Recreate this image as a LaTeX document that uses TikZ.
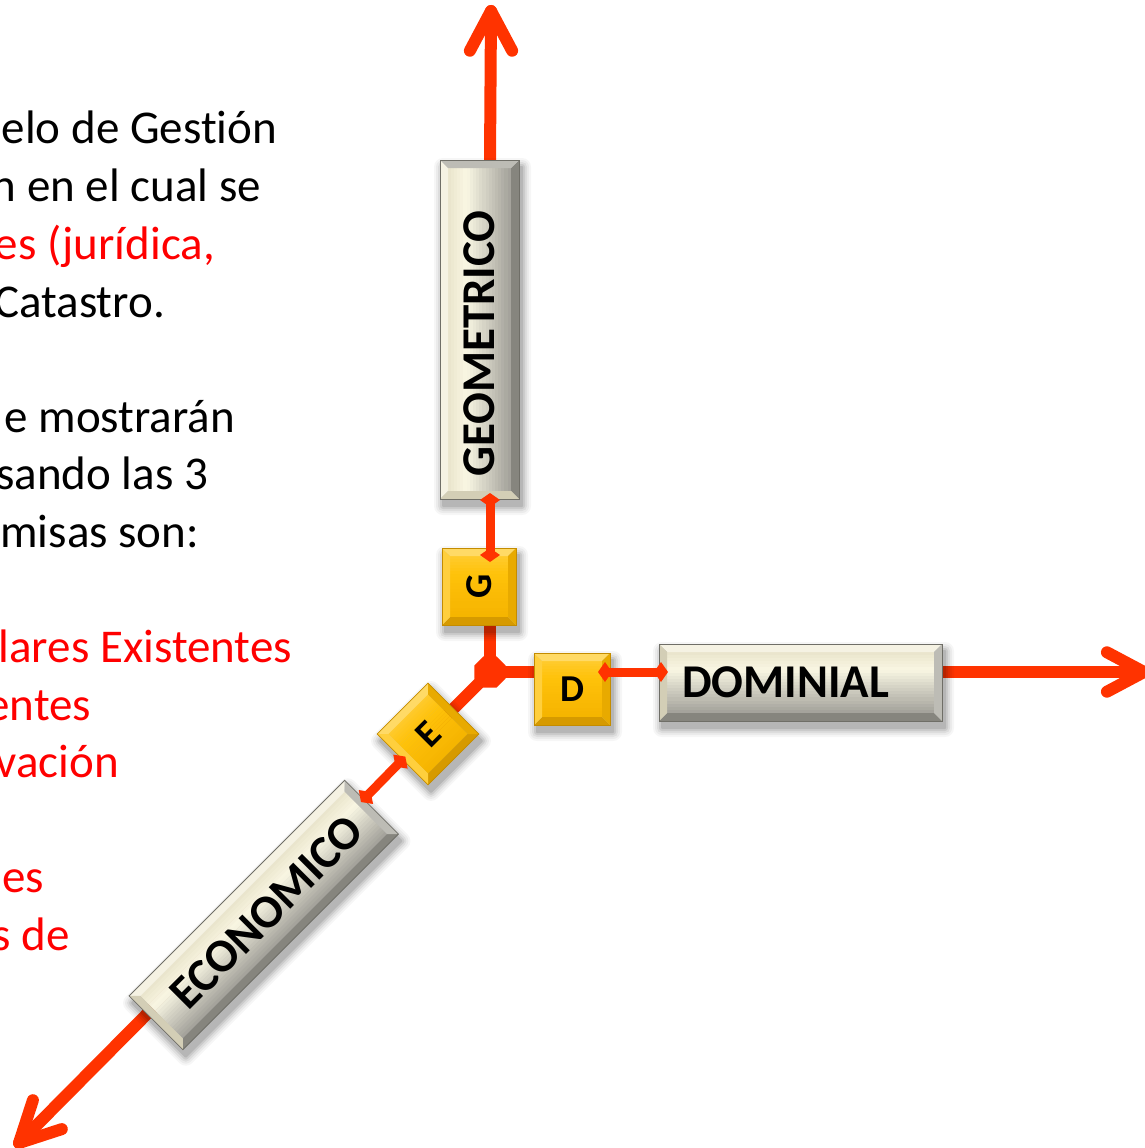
\documentclass[tikz,border=0pt]{standalone}
\usepackage{fontspec}
\setmainfont{Carlito}[Ligatures={NoCommon,NoContextual}]
\usetikzlibrary{arrows.meta,shapes.geometric,calc}
\pgfdeclarelayer{bg}
\pgfsetlayers{bg,main}
\definecolor{axisred}{HTML}{FF3300}
\definecolor{txtred}{HTML}{FF0000}
\definecolor{grayA}{HTML}{E9E4CB}
\definecolor{grayB}{HTML}{F9F6E3}
\definecolor{grayC}{HTML}{A2A19A}
\definecolor{grayTop}{HTML}{F5F2E3}
\definecolor{grayLeft}{HTML}{D3CEB6}
\definecolor{grayRight}{HTML}{BDBCB5}
\definecolor{grayBot}{HTML}{86857E}
\definecolor{grayLine}{HTML}{6F6E67}
\definecolor{goldA}{HTML}{FFCB2E}
\definecolor{goldB}{HTML}{FFC20A}
\definecolor{goldC}{HTML}{F5B400}
\definecolor{goldTop}{HTML}{FFDA66}
\definecolor{goldLeft}{HTML}{FFCF3D}
\definecolor{goldRight}{HTML}{E8AA00}
\definecolor{goldBot}{HTML}{D69A00}
\definecolor{goldLine}{HTML}{C48C00}
\newcommand\boxfont{\fontsize{47}{50}\selectfont\bfseries}
\newcommand\letfont{\fontsize{38}{40}\selectfont\bfseries}
\newcommand\bodyfont{\fontsize{47}{58}\selectfont}
% #1 name, #2 x(px), #3 y(px), #4 angle, #5 length, #6 thickness, #7 type, #8 text, #9 text options
\newcommand\bevbox[9]{%
  \begin{scope}[shift={({#2+3},{-#3-7})},rotate=#4]
    \foreach \s/\o in {9/0.035,7/0.045,5/0.06,3/0.08,1/0.1}{%
      \fill[black,opacity=\o,rounded corners=\s] ({-#5/2-\s},{-#6/2-\s}) rectangle ({#5/2+\s},{#6/2+\s});}
  \end{scope}
  \begin{scope}[shift={({#2},{-#3})},rotate=#4]
    \node[transform shape,minimum width=#5,minimum height=#6,inner sep=0,outer sep=0] (#1) at (0,0) {};
    \pgfmathsetmacro\hw{#5/2}%
    \pgfmathsetmacro\hh{#6/2}%
    \def\bv{8}%
    \foreach \i in {0,...,19}{%
      \pgfmathsetmacro\ya{\hh-\bv-(2*\hh-2*\bv)*\i/20+0.3}%
      \pgfmathsetmacro\yb{\hh-\bv-(2*\hh-2*\bv)*(\i+1)/20}%
      \pgfmathsetmacro\gt{(\i+0.5)/20}%
      \pgfmathtruncatemacro\seg{\gt<0.3}%
      \ifnum\seg=1
        \pgfmathtruncatemacro\pc{100*(1-\gt/0.3)}%
        \fill[#7A!\pc!#7B] ({-\hw+\bv},{\ya}) rectangle ({\hw-\bv},{\yb});
      \else
        \pgfmathtruncatemacro\pc{100*(1-(\gt-0.3)/0.7)}%
        \fill[#7B!\pc!#7C] ({-\hw+\bv},{\ya}) rectangle ({\hw-\bv},{\yb});
      \fi
    }
    \fill[#7Top] ({-\hw},{\hh}) -- ({\hw},{\hh}) -- ({\hw-\bv},{\hh-\bv}) -- ({-\hw+\bv},{\hh-\bv}) -- cycle;
    \fill[#7Bot] ({-\hw},{-\hh}) -- ({\hw},{-\hh}) -- ({\hw-\bv},{-\hh+\bv}) -- ({-\hw+\bv},{-\hh+\bv}) -- cycle;
    \fill[#7Left] ({-\hw},{\hh}) -- ({-\hw},{-\hh}) -- ({-\hw+\bv},{-\hh+\bv}) -- ({-\hw+\bv},{\hh-\bv}) -- cycle;
    \fill[#7Right] ({\hw},{\hh}) -- ({\hw},{-\hh}) -- ({\hw-\bv},{-\hh+\bv}) -- ({\hw-\bv},{\hh-\bv}) -- cycle;
    \draw[#7Line,line width=0.8] ({-\hw},{-\hh}) rectangle ({\hw},{\hh});
    \node[transform shape,inner sep=0,#9] (#1t) at (0,0) {#8};
  \end{scope}}
\tikzset{
  axis/.style={line width=12, draw=axisred, line cap=round, line join=round},
  conn/.style={line width=9, draw=axisred,
    {Diamond[length=14pt,width=20pt,line width=0pt]}-{Diamond[length=14pt,width=20pt,line width=0pt]}},
  body/.style={font=\bodyfont, inner sep=0, outer sep=0, anchor=base east},
  blk/.style={body, text=black},
  rd/.style={body, text=txtred}
}
\begin{document}
\begin{tikzpicture}[x=1pt,y=1pt]
\useasboundingbox (0,0) rectangle (1145,-1148);
\begin{pgfonlayer}{bg}
\fill[white] (0,0) rectangle (1145,-1148);
\end{pgfonlayer}
% axis points
\coordinate (topTip) at (491,-11);
\coordinate (rightTip) at (1144,-672);
\coordinate (blTip) at (19,-1143);
\coordinate (ecoAx) at (264,-896);
\coordinate (ecoTop) at (361,-802);
% junction
\node[regular polygon, regular polygon sides=8, minimum size=34, inner sep=0, fill=axisred] (J) at (490,-672) {};
% boxes
\bevbox{geo}{479.5}{329.5}{90}{339}{79}{gray}{GEOMETRICO}{font=\boxfont, xshift=-14}
\bevbox{G}{479}{586.5}{0}{74}{77}{gold}{G}{font=\letfont, rotate=90}
\bevbox{D}{572}{689}{0}{76}{72}{gold}{D}{font=\letfont}
\bevbox{dom}{800.5}{682.5}{0}{283}{77}{gray}{DOMINIAL}{font=\boxfont, xshift=-15}
\bevbox{E}{428}{734}{45}{72}{72}{gold}{E}{font=\letfont}
\bevbox{eco}{263.75}{915}{45}{305}{76}{gray}{ECONOMICO}{font=\boxfont, xshift=4}
% axes (under boxes)
\begin{pgfonlayer}{bg}
\draw[axis] (geo.east -| J.center) -- (topTip);
\draw[axis] (topTip) ++(-62:45) -- (topTip) -- ++(-118:45);
\draw[axis] (J.center) -- (G.south -| J.center);
\draw[axis] (J.center) -- (D.west |- J.center);
\draw[axis] (dom.east |- J.center) -- (rightTip);
\draw[axis] (rightTip) ++(152:42) -- (rightTip) -- ++(208:42);
\draw[axis] (J.center) -- (E.center);
\draw[axis] (ecoAx) -- (blTip);
\draw[axis] (blTip) ++(72:45) -- (blTip) -- ++(18:45);
\end{pgfonlayer}
% connectors with diamonds
\draw[conn, shorten <=-6pt, shorten >=-14pt] (geo.west -| J.center) -- (G.north -| J.center);
\draw[conn, shorten <=-12pt, shorten >=-9pt] (D.east |- J.center) -- (dom.west |- J.center);
\draw[conn, shorten <=-4pt] (E.west) -- (ecoTop);
% body text
\node[blk] (l1) at (277,-143) {elo de Gestión};
\node[blk] (l2) at (261,-201) {n en el cual se};
\node[rd]  (l3) at (215,-259) {es (jurídica,};
\node[blk] (l4) at (165,-317) {Catastro.};
\node[blk] (l5) at (235,-432) {e mostrarán};
\node[blk] (l6) at (208,-489) {sando las 3};
\node[blk] (l7) at (199,-547) {misas son:};
\node[rd]  (l8) at (292,-662) {lares Existentes};
\node[rd]  (l9) at (91,-720) {entes};
\node[rd]  (l10) at (119,-777) {vación};
\node[rd]  (l11) at (44,-892) {es};
\node[rd]  (l12) at (70,-950) {s de};
\end{tikzpicture}
\end{document}
